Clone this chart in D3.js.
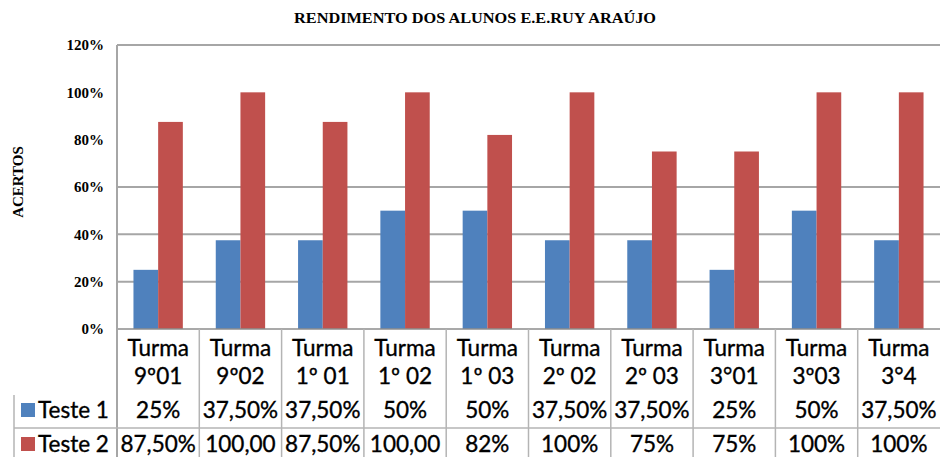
<!DOCTYPE html>
<html>
<head>
<meta charset="utf-8">
<script src="https://cdn.jsdelivr.net/npm/d3@7.9.0/dist/d3.min.js"></script>
<style>
  body { margin: 0; background: #fff; }
  svg { display: block; }
</style>
</head>
<body>
<svg id="chart" width="940" height="457"></svg>
<script>
// data
const categories = ["9º01", "9º02", "1º 01", "1º 02", "1º 03", "2º 02", "2º 03", "3°01", "3º03", "3°4"];
const seriesNames = ["Teste 1", "Teste 2"];
const teste1 = [0.25, 0.375, 0.375, 0.5, 0.5, 0.375, 0.375, 0.25, 0.5, 0.375];
const teste2 = [0.875, 1.0, 0.875, 1.0, 0.82, 1.0, 0.75, 0.75, 1.0, 1.0];
const teste1Labels = ["25%", "37,50%", "37,50%", "50%", "50%", "37,50%", "37,50%", "25%", "50%", "37,50%"];
const teste2Labels = ["87,50%", "100,00", "87,50%", "100,00", "82%", "100%", "75%", "75%", "100%", "100%"];
const yTicks = [0, 0.2, 0.4, 0.6, 0.8, 1.0, 1.2];
const gridTicks = [0.2, 0.4, 0.6, 1.2];

const colors = { "Teste 1": "#4f81bd", "Teste 2": "#c0504d" };
const values = { "Teste 1": teste1, "Teste 2": teste2 };
const labels = { "Teste 1": teste1Labels, "Teste 2": teste2Labels };

const svg = d3.select("#chart");
const plotLeft = 117, plotRight = 940, plotTop = 45, plotBottom = 329;

let x = d3.scaleBand().domain(categories).range([plotLeft, plotRight]);
let xs = d3.scaleBand().domain(seriesNames).range([0, x.bandwidth()]).paddingOuter(0.667);
let y = d3.scaleLinear().domain([0, 1.2]).range([plotBottom, plotTop]);

// title
svg.append("text")
  .attr("x", 475).attr("y", 23)
  .attr("text-anchor", "middle")
  .attr("textLength", 362).attr("lengthAdjust", "spacingAndGlyphs")
  .style("font-family", "Liberation Serif").style("font-weight", "bold").style("font-size", "15px")
  .text("RENDIMENTO DOS ALUNOS E.E.RUY ARAÚJO");

// y axis title
svg.append("text")
  .attr("transform", `translate(23,182) rotate(-90)`)
  .attr("text-anchor", "middle")
  .style("font-family", "Liberation Serif").style("font-weight", "bold").style("font-size", "15px")
  .text("ACERTOS");

// gridlines
svg.append("g").selectAll("line").data(gridTicks).join("line")
  .attr("x1", plotLeft).attr("x2", plotRight)
  .attr("y1", d => y(d)).attr("y2", d => y(d))
  .attr("stroke", "#a6a6a6").attr("stroke-width", 2);

// y axis labels
let yAxis = d3.axisLeft(y).tickValues(yTicks).tickFormat(d3.format(".0%")).tickSize(0).tickPadding(13);
let gy = svg.append("g").attr("transform", `translate(${plotLeft},0)`).call(yAxis);
gy.select(".domain").remove();
gy.selectAll("text")
  .style("font-family", "Liberation Serif").style("font-weight", "bold").style("font-size", "15px")
  .attr("fill", "#000");

// bars
seriesNames.forEach(s => {
  svg.append("g").selectAll("rect").data(categories).join("rect")
    .attr("x", (c) => x(c) + xs(s))
    .attr("y", (c, i) => y(values[s][i]))
    .attr("width", xs.bandwidth())
    .attr("height", (c, i) => plotBottom - y(values[s][i]))
    .attr("fill", colors[s]);
});

// axis lines
svg.append("line").attr("x1", plotLeft).attr("x2", plotRight).attr("y1", plotBottom).attr("y2", plotBottom)
  .attr("stroke", "#8c8c8c").attr("stroke-width", 1.5);
svg.append("line").attr("x1", plotLeft).attr("x2", plotLeft).attr("y1", plotTop).attr("y2", 457)
  .attr("stroke", "#a6a6a6").attr("stroke-width", 2);

// data table
const rowY = [395, 428];
svg.append("g").selectAll("line").data(categories.slice(1)).join("line")
  .attr("x1", c => x(c)).attr("x2", c => x(c))
  .attr("y1", plotBottom).attr("y2", 457)
  .attr("stroke", "#b4b4b4").attr("stroke-width", 1.5);
svg.append("line").attr("x1", 14).attr("x2", plotRight).attr("y1", rowY[1]).attr("y2", rowY[1])
  .attr("stroke", "#b4b4b4").attr("stroke-width", 1.5);
svg.append("line").attr("x1", 14).attr("x2", 14).attr("y1", rowY[0]).attr("y2", 457)
  .attr("stroke", "#b4b4b4").attr("stroke-width", 1.5);

const tableFont = (sel) => sel.style("font-family", "Lato").style("font-size", "22.5px")
  .attr("fill", "#000").attr("stroke", "#000").attr("stroke-width", 0.35);

let catText = svg.append("g").selectAll("text").data(categories).join("text")
  .attr("text-anchor", "middle")
  .call(tableFont);
catText.append("tspan").attr("x", c => x(c) + x.bandwidth() / 2).attr("y", 356).text("Turma");
catText.append("tspan").attr("x", c => x(c) + x.bandwidth() / 2).attr("y", 384).text(c => c);

seriesNames.forEach((s, si) => {
  let by = si === 0 ? 418 : 452;
  svg.append("rect").attr("x", 21).attr("y", by - 15).attr("width", 14).attr("height", 14).attr("fill", colors[s]);
  svg.append("text").attr("x", 38).attr("y", by).text(s).call(tableFont);
  svg.append("g").selectAll("text").data(categories).join("text")
    .attr("x", c => x(c) + x.bandwidth() / 2)
    .attr("y", by)
    .attr("text-anchor", "middle")
    .text((c, i) => labels[s][i])
    .call(tableFont);
});
</script>
</body>
</html>
